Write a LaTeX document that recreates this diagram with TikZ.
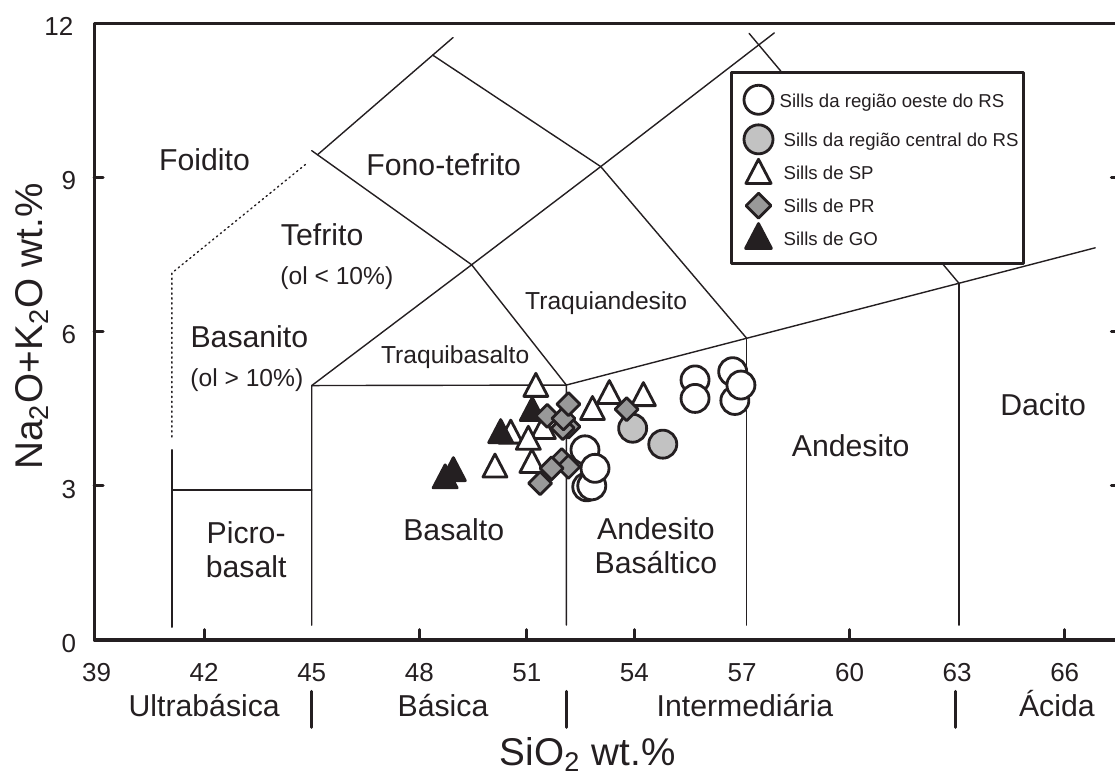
\documentclass[tikz,border=0pt]{standalone}
\usepackage{fontspec}
\setmainfont{Liberation Sans}
\definecolor{qqqqqq}{rgb}{0.14,0.12,0.13}
\definecolor{zzzzzz}{rgb}{0.6,0.6,0.6}
\definecolor{cccccc}{rgb}{0.76,0.76,0.76}
\tikzset{
  tri/.pic={\path[pic actions] (0cm,0.153cm) -- (-0.12cm,-0.077cm) -- (0.12cm,-0.077cm) -- cycle;},
  dia/.pic={\path[pic actions] (0.115cm,0cm) -- (0cm,0.115cm) -- (-0.115cm,0cm) -- (0cm,-0.115cm) -- cycle;}
}
\begin{document}
\begin{tikzpicture}[line cap=round,line join=round,x=0.35855cm,y=0.514cm,
  frame/.style={line width=0.9pt,color=qqqqqq},
  bnd/.style={line width=0.4pt,color=qqqqqq},
  wrs/.style={line width=0.8pt,draw=qqqqqq,fill=white},
  crs/.style={line width=0.8pt,draw=qqqqqq,fill=cccccc},
  sp/.style={line width=0.8pt,draw=qqqqqq,fill=white},
  pr/.style={line width=0.8pt,draw=qqqqqq,fill=zzzzzz},
  go/.style={line width=0.8pt,draw=qqqqqq,fill=qqqqqq},
  rock/.style={font=\fontsize{8.6}{10}\selectfont,anchor=base,inner sep=0pt,text=qqqqqq},
  small/.style={font=\fontsize{7}{8}\selectfont,anchor=base,inner sep=0pt,text=qqqqqq},
  ticklab/.style={font=\fontsize{7.4}{9}\selectfont,inner sep=0pt,text=qqqqqq},
  leg/.style={font=\fontsize{5.3}{6}\selectfont,anchor=base west,inner sep=0pt,text=qqqqqq},
  ttl/.style={font=\fontsize{11}{13}\selectfont,anchor=base,inner sep=0pt,text=qqqqqq}]
\useasboundingbox (36.306,-2.607) rectangle (67.403,12.451);
% field boundaries
\draw [bnd] (41.1,0.25) -- (41.1,3.7);
\draw [bnd,densely dotted] (41.1,3.95) -- (41.1,7.14) -- (44.84,9.26);
\draw [bnd] (41.1,2.92) -- (45,2.92);
\draw [bnd] (45,0.29) -- (45,4.95) -- (52.1,4.96);
\draw [bnd] (52.1,0.29) -- (52.1,4.96) -- (57.13,5.87) -- (63.05,6.94) -- (66.85,7.63);
\draw [bnd] (57.13,0.29) -- (57.13,5.87);
\draw [bnd] (63.05,0.29) -- (63.05,6.94);
\draw [bnd] (45,4.95) -- (49.46,7.30) -- (52.1,4.96);
\draw [bnd] (49.46,7.30) -- (45,9.52);
\draw [bnd] (45.16,9.44) -- (48.94,11.72);
\draw [bnd] (48.37,11.38) -- (53.06,9.21) -- (57.13,5.87);
\draw [bnd] (49.46,7.30) -- (53.06,9.21) -- (57.9,11.81);
\draw [bnd] (57.2,11.8) -- (63.05,6.94);
% frame and ticks
\draw [frame] (38.93,12) -- (38.93,0) -- (67.6,0) -- (67.6,12) -- cycle;
\draw [frame] (38.93,3) -- (39.18,3);
\draw [frame] (38.93,6) -- (39.18,6);
\draw [frame] (38.93,9) -- (39.18,9);
\draw [frame] (67.6,3) -- (67.3,3);
\draw [frame] (67.6,6) -- (67.3,6);
\draw [frame] (67.6,9) -- (67.3,9);
\draw [frame] (42,0) -- (42,0.2);
\draw [frame] (48,0) -- (48,0.2);
\draw [frame] (51,0) -- (51,0.2);
\draw [frame] (54,0) -- (54,0.2);
\draw [frame] (60,0) -- (60,0.2);
\draw [frame] (66,0) -- (66,0.2);
% field names
\node [rock] (foidito) at (42.01,9.13) {Foidito};
\node [rock] (fonotefrito) at (48.68,9.03) {Fono-tefrito};
\node [rock] (tefrito) at (45.29,7.68) {Tefrito};
\node [small] (oltefrito) at (45.70,6.91) {(ol < 10\%)};
\node [rock] (basanito) at (43.26,5.69) {Basanito};
\node [small] (olbasanito) at (43.19,4.93) {(ol > 10\%)};
\node [small] (traqbas) at (49.0,5.37) {Traquibasalto};
\node [small] (traqand) at (53.21,6.43) {Traquiandesito};
\node [rock] (picroa) at (43.17,1.88) {Picro-};
\node [rock] (picrob) at (43.17,1.22) {basalt};
\node [rock] (basalto) at (48.96,1.93) {Basalto};
\node [rock] (andbasa) at (54.6,1.95) {Andesito};
\node [rock] (andbasb) at (54.6,1.29) {Basáltico};
\node [rock] (andesito) at (60.03,3.57) {Andesito};
\node [rock] (dacito) at (65.40,4.36) {Dacito};
% axis numbers
\node [ticklab,anchor=base east] (y0) at (38.45,-0.24) {0};
\node [ticklab,anchor=base east] (y3) at (38.45,2.76) {3};
\node [ticklab,anchor=base east] (y6) at (38.45,5.76) {6};
\node [ticklab,anchor=base east] (y9) at (38.45,8.76) {9};
\node [ticklab,anchor=base east] (y12) at (38.37,11.76) {12};
\node [ticklab,anchor=base] (x39) at (39,-0.8) {39};
\node [ticklab,anchor=base] (x42) at (42,-0.8) {42};
\node [ticklab,anchor=base] (x45) at (45,-0.8) {45};
\node [ticklab,anchor=base] (x48) at (48,-0.8) {48};
\node [ticklab,anchor=base] (x51) at (51,-0.8) {51};
\node [ticklab,anchor=base] (x54) at (54,-0.8) {54};
\node [ticklab,anchor=base] (x57) at (57,-0.8) {57};
\node [ticklab,anchor=base] (x60) at (60,-0.8) {60};
\node [ticklab,anchor=base] (x63) at (63,-0.8) {63};
\node [ticklab,anchor=base] (x66) at (66,-0.8) {66};
% silica classes
\node [rock] (ultrabasica) at (42.0,-1.49) {Ultrabásica};
\node [rock] (basica) at (48.66,-1.49) {Básica};
\node [rock] (intermediaria) at (57.08,-1.49) {Intermediária};
\node [rock] (acida) at (65.78,-1.49) {Ácida};
\draw [frame] (45,-1.0) -- (45,-1.7);
\draw [frame] (52.1,-1.0) -- (52.1,-1.7);
\draw [frame] (62.95,-1.0) -- (62.95,-1.7);
\node [ttl] (xtitle) at (52.7,-2.45) {SiO\textsubscript{2} wt.\%};
\node [ttl,rotate=90] (ytitle) at (37.5,6.1) {Na\textsubscript{2}O+K\textsubscript{2}O wt.\%};
% samples
\draw [wrs] (55.69,5.06) circle (0.14cm);
\draw [wrs] (55.69,4.70) circle (0.14cm);
\draw [wrs] (56.74,5.22) circle (0.14cm);
\draw [wrs] (56.80,4.66) circle (0.14cm);
\draw [wrs] (56.97,4.96) circle (0.14cm);
\draw [wrs] (52.62,3.70) circle (0.14cm);
\draw [wrs] (52.67,2.98) circle (0.14cm);
\draw [wrs] (52.81,3.00) circle (0.14cm);
\draw [wrs] (52.90,3.34) circle (0.14cm);
\draw [crs] (53.95,4.12) circle (0.14cm);
\draw [crs] (54.79,3.81) circle (0.14cm);
\pic [sp] at (51.25,4.89) {tri};
\pic [sp] at (51.46,4.07) {tri};
\pic [sp] at (50.55,3.98) {tri};
\pic [sp] at (51.04,3.86) {tri};
\pic [sp] at (51.14,3.41) {tri};
\pic [sp] at (50.11,3.32) {tri};
\pic [sp] at (53.30,4.75) {tri};
\pic [sp] at (54.25,4.71) {tri};
\pic [sp] at (52.83,4.44) {tri};
\pic [go] at (51.15,4.42) {tri};
\pic [go] at (50.27,3.99) {tri};
\pic [go] at (48.95,3.25) {tri};
\pic [go] at (48.72,3.11) {tri};
\pic [pr] at (51.57,4.36) {dia};
\pic [pr] at (52.16,4.15) {dia};
\pic [pr] at (52.0,4.12) {dia};
\pic [pr] at (52.02,4.31) {dia};
\pic [pr] at (52.16,4.59) {dia};
\pic [pr] at (53.78,4.49) {dia};
\pic [pr] at (51.97,3.50) {dia};
\pic [pr] at (52.16,3.37) {dia};
\pic [pr] at (51.69,3.34) {dia};
\pic [pr] at (51.37,3.05) {dia};
% legend
\draw [frame,fill=white] (56.71,7.33) rectangle (64.84,11.04);
\draw [wrs] (57.46,10.51) circle (0.145cm);
\draw [crs] (57.46,9.74) circle (0.145cm);
\pic [sp,scale=1.05] at (57.46,9.04) {tri};
\pic [pr,scale=1.08] at (57.46,8.45) {dia};
\pic [go,scale=1.08] at (57.46,7.78) {tri};
\node [leg] (legwrs) at (58.03,10.35) {Sills da região oeste do RS};
\node [leg] (legcrs) at (58.14,9.60) {Sills da região central do RS};
\node [leg] (legsp) at (58.14,8.96) {Sills de SP};
\node [leg] (legpr) at (58.14,8.32) {Sills de PR};
\node [leg] (leggo) at (58.14,7.68) {Sills de GO};
\end{tikzpicture}
\end{document}
